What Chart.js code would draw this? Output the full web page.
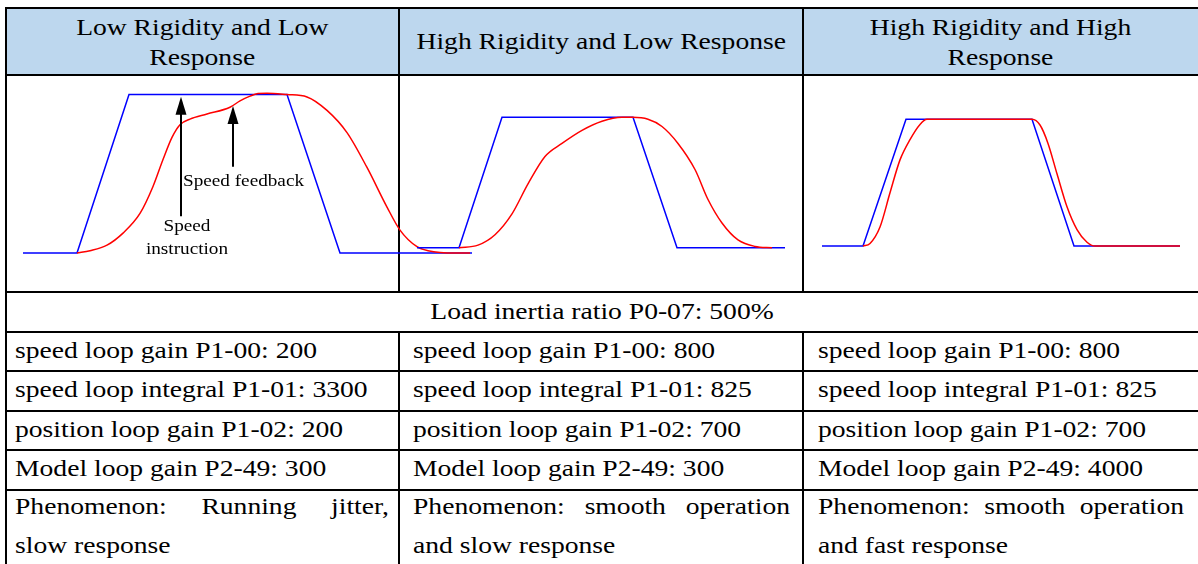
<!DOCTYPE html>
<html>
<head>
<meta charset="utf-8">
<script src="https://cdn.jsdelivr.net/npm/chart.js@4.4.0/dist/chart.umd.min.js"></script>
<style>
    html, body { margin: 0; padding: 0; background: #fff; }
    #page {
        position: relative; width: 1198px; height: 564px; overflow: hidden;
        font-family: "Liberation Serif", "Times New Roman", serif; color: #000;
    }
    .hdr { position: absolute; left: 6px; top: 8px; width: 1200px; height: 67px; background: #bdd7ee; }
    .ln { position: absolute; background: #000; }
    .txt { position: absolute; font-size: 23px; white-space: nowrap; transform-origin: 0 0; }
    .just { text-align: justify; text-align-last: justify; }
    canvas { position: absolute; }
</style>
</head>
<body>
<div id="page"></div>
<script>
// ========== DATOS ==========

// textos de la tabla
const headers = [
    ['Low Rigidity and Low', 'Response'],
    ['High Rigidity and Low Response'],
    ['High Rigidity and High', 'Response']
];
const inertiaText = 'Load inertia ratio P0-07: 500%';
const speedGain = ['speed loop gain P1-00: 200', 'speed loop gain P1-00: 800', 'speed loop gain P1-00: 800'];
const speedIntegral = ['speed loop integral P1-01: 3300', 'speed loop integral P1-01: 825', 'speed loop integral P1-01: 825'];
const positionGain = ['position loop gain P1-02: 200', 'position loop gain P1-02: 700', 'position loop gain P1-02: 700'];
const modelGain = ['Model loop gain P2-49: 300', 'Model loop gain P2-49: 300', 'Model loop gain P2-49: 4000'];
const phenomenon = [
    ['Phenomenon: Running jitter,', 'slow response'],
    ['Phenomenon: smooth operation', 'and slow response'],
    ['Phenomenon: smooth operation', 'and fast response']
];

// curva 1: baja rigidez, baja respuesta (tiempo / velocidad normalizada)
const lowLowCmdT = [0, 54, 106, 264, 317, 449];
const lowLowCmd = [0, 0, 1, 1, 0, 0];
const lowLowFbT = [54, 67, 84, 100, 117, 130, 140, 149, 157, 167, 184, 207, 217, 227, 235, 244, 264, 284, 304, 324, 344, 364, 377, 394, 405, 432, 447];
const lowLowFb = [0, 0.015, 0.05, 0.126, 0.25, 0.42, 0.59, 0.73, 0.81, 0.845, 0.877, 0.92, 0.96, 0.99, 1.006, 1.008, 1.0, 0.985, 0.9, 0.76, 0.54, 0.29, 0.145, 0.04, 0.015, 0, 0];

// curva 2: alta rigidez, baja respuesta
const highLowCmdT = [0, 42, 85, 216, 260, 368];
const highLowCmd = [0, 0, 1, 1, 0, 0];
const highLowFbT = [42, 61, 78, 95, 111, 128, 145, 165, 185, 205, 216, 231, 245, 261, 278, 291, 305, 321, 338, 355];
const highLowFb = [0, 0.02, 0.1, 0.26, 0.49, 0.7, 0.8, 0.9, 0.97, 1.0, 1.0, 0.985, 0.93, 0.8, 0.6, 0.37, 0.19, 0.06, 0.01, 0];

// curva 3: alta rigidez, alta respuesta
const highHighCmdT = [0, 41, 84, 210, 252, 358];
const highHighCmd = [0, 0, 1, 1, 0, 0];
const highHighFbT = [41, 48, 58, 68, 78, 88, 98, 105, 210, 218, 226, 235, 245, 255, 265, 273, 358];
const highHighFb = [0, 0.02, 0.15, 0.42, 0.68, 0.84, 0.96, 1, 1, 0.955, 0.81, 0.57, 0.31, 0.13, 0.03, 0, 0];

// flechas y notas de la curva 1
const arrowT = [158, 210];
const arrowTipS = [0.986, 0.927];
const arrowTailS = [0.233, 0.545];
const noteText = ['Speed feedback', 'Speed', 'instruction'];
const noteT = [160, 164, 164];
const noteS = [0.45, 0.166, 0.023];
const noteAlign = ['left', 'center', 'center'];

// ========== MAQUETACION ==========
const TEXT_SCALE = 1.2;
const page = document.getElementById('page');

function addDiv(cls, css) {
    const d = document.createElement('div');
    d.className = cls;
    Object.assign(d.style, css);
    page.appendChild(d);
    return d;
}

// texto estirado en horizontal como en la imagen original
function addText(html, left, top, width, lineHeight, align, extraCls) {
    const d = addDiv('txt' + (extraCls ? ' ' + extraCls : ''), {
        left: left + 'px', top: top + 'px',
        width: (width / TEXT_SCALE) + 'px',
        lineHeight: lineHeight + 'px',
        textAlign: align,
        transform: 'scaleX(' + TEXT_SCALE + ')'
    });
    d.innerHTML = html;
    return d;
}

addDiv('hdr', {});

const colEdges = [6, 398.5, 803, 1198];
const rowLines = [8, 75, 291.7, 331.7, 371, 410.5, 450, 489.5];

rowLines.forEach(y => addDiv('ln', { left: '5px', top: (y - 1) + 'px', width: '1200px', height: '2px' }));
addDiv('ln', { left: '5px', top: '7px', width: '2px', height: '560px' });
[colEdges[1], colEdges[2]].forEach(x => {
    addDiv('ln', { left: (x - 1) + 'px', top: '7px', width: '2px', height: (291.7 - 7) + 'px' });
    addDiv('ln', { left: (x - 1) + 'px', top: '331.7px', width: '2px', height: '240px' });
});

// cabeceras
headers.forEach((lines, i) => {
    const top = lines.length === 2 ? 13 : 27;
    addText(lines.join('<br>'), colEdges[i], top, colEdges[i + 1] - colEdges[i], 30, 'center');
});

addText(inertiaText, colEdges[0], 291.7, colEdges[3] - colEdges[0], 40, 'center');

const textBoxes = [[15, 389], [413, 790], [818, 1184]];
[speedGain, speedIntegral, positionGain, modelGain].forEach((row, r) => {
    const top = rowLines[3 + r] - 1;
    row.forEach((t, c) => {
        addText(t, textBoxes[c][0], top, textBoxes[c][1] - textBoxes[c][0], 40, 'left');
    });
});

phenomenon.forEach((lines, c) => {
    const w = textBoxes[c][1] - textBoxes[c][0];
    addText(lines[0], textBoxes[c][0], 486.5, w, 39, 'justify', 'just').style.whiteSpace = 'normal';
    addText(lines[1], textBoxes[c][0], 525.5, w, 39, 'left');
});

// ========== GRAFICOS ==========
function toPoints(ts, vs) {
    return ts.map((t, i) => ({ x: t, y: vs[i] }));
}

const arrowPlugin = {
    id: 'arrows',
    afterDatasetsDraw(chart) {
        const { ctx, scales: { x, y } } = chart;
        ctx.save();
        ctx.strokeStyle = '#000';
        ctx.fillStyle = '#000';
        arrowT.forEach((t, i) => {
            const px = x.getPixelForValue(t);
            const tip = y.getPixelForValue(arrowTipS[i]);
            const tail = y.getPixelForValue(arrowTailS[i]);
            ctx.lineWidth = 2;
            ctx.beginPath();
            ctx.moveTo(px, tail);
            ctx.lineTo(px, tip + 12);
            ctx.stroke();
            ctx.beginPath();
            ctx.moveTo(px, tip);
            ctx.lineTo(px - 5.5, tip + 18);
            ctx.lineTo(px + 5.5, tip + 18);
            ctx.closePath();
            ctx.fill();
        });
        ctx.font = '16px "Liberation Serif", serif';
        ctx.textBaseline = 'middle';
        noteText.forEach((txt, i) => {
            ctx.save();
            ctx.translate(x.getPixelForValue(noteT[i]), y.getPixelForValue(noteS[i]));
            ctx.scale(TEXT_SCALE, 1);
            ctx.textAlign = noteAlign[i];
            ctx.fillText(txt, 0, 0);
            ctx.restore();
        });
        ctx.restore();
    }
};

function dibujarRespuesta(box, cmdT, cmd, fbT, fb, xMax, yMin, yMax, plugins) {
    const canvas = document.createElement('canvas');
    canvas.width = box.w;
    canvas.height = box.h;
    canvas.style.left = box.x + 'px';
    canvas.style.top = box.y + 'px';
    page.appendChild(canvas);

    return new Chart(canvas.getContext('2d'), {
        type: 'line',
        data: {
            datasets: [{
                label: 'Speed feedback',
                data: toPoints(fbT, fb),
                borderColor: '#ff0000',
                borderWidth: 1.5,
                pointRadius: 0,
                cubicInterpolationMode: 'monotone',
                fill: false
            }, {
                label: 'Speed instruction',
                data: toPoints(cmdT, cmd),
                borderColor: '#0000ff',
                borderWidth: 1.5,
                pointRadius: 0,
                tension: 0,
                fill: false
            }]
        },
        options: {
            responsive: false,
            animation: false,
            events: [],
            layout: { padding: 0 },
            plugins: {
                legend: { display: false },
                tooltip: { enabled: false }
            },
            scales: {
                x: { type: 'linear', min: 0, max: xMax, display: false },
                y: { min: yMin, max: yMax, display: false }
            }
        },
        plugins: plugins || []
    });
}

dibujarRespuesta({ x: 23, y: 76, w: 450, h: 214 }, lowLowCmdT, lowLowCmd, lowLowFbT, lowLowFb, 450, -0.233, 1.117, [arrowPlugin]);
dibujarRespuesta({ x: 417, y: 76, w: 370, h: 214 }, highLowCmdT, highLowCmd, highLowFbT, highLowFb, 370, -0.324, 1.317);
dibujarRespuesta({ x: 822, y: 76, w: 360, h: 214 }, highHighCmdT, highHighCmd, highHighFbT, highHighFb, 360, -0.347, 1.342);
</script>
</body>
</html>
